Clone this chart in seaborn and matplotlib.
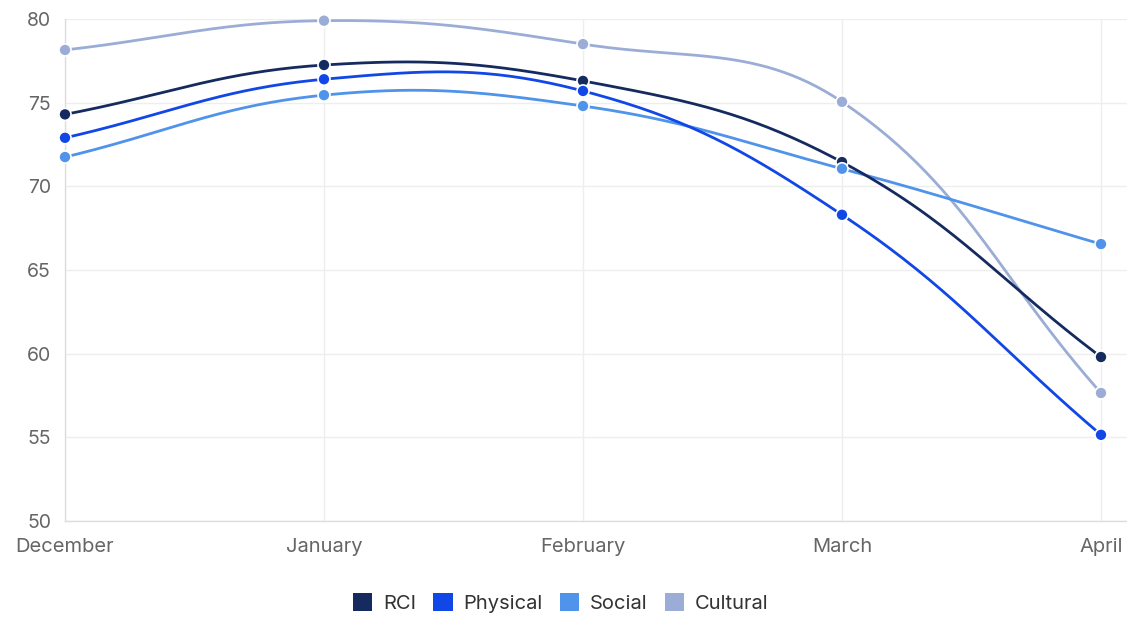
import numpy as np
import pandas as pd
import matplotlib
matplotlib.use("Agg")
import matplotlib.pyplot as plt
from matplotlib.patches import Patch
import seaborn as sns

# Monthly index scores
months = ["December", "January", "February", "March", "April"]
rci = [74.3, 77.25, 76.3, 71.45, 59.8]
physical = [72.9, 76.4, 75.7, 68.3, 55.15]
social = [71.75, 75.45, 74.8, 71.05, 66.55]
cultural = [78.15, 79.9, 78.5, 75.05, 57.65]

series_names = ["RCI", "Physical", "Social", "Cultural"]
series_values = [rci, physical, social, cultural]
colors = ["#152b60", "#1147e6", "#4f93ea", "#9badd6"]
y_ticks = [50, 55, 60, 65, 70, 75, 80]

sns.set_theme(style="white")
plt.rcParams["font.family"] = ["Inter", "DejaVu Sans"]

fig = plt.figure(figsize=(11.27, 6.18), dpi=100)
W, H = 1127, 618
ax = fig.add_axes([65 / W, (H - 521) / H, (1127 - 65) / W, (521 - 19) / H])
x_idx = np.arange(len(months))
ax.set_xlim(0, 4 + 26 / 259)
ax.set_ylim(50, 80)


def bezier_curve(xs, ys, tension=0.4, n=60):
    """Cardinal-style bezier through the points, control points computed in pixel space."""
    pts = ax.transData.transform(np.column_stack([xs, ys]))
    m = len(pts)
    cps = []
    for i in range(m):
        prev = pts[i - 1] if i > 0 else pts[i]
        cur = pts[i]
        nxt = pts[i + 1] if i < m - 1 else pts[i]
        d01 = np.hypot(*(cur - prev))
        d12 = np.hypot(*(nxt - cur))
        tot = d01 + d12
        s01 = d01 / tot if tot else 0
        s12 = d12 / tot if tot else 0
        cp_prev = cur - tension * s01 * (nxt - prev)
        cp_next = cur + tension * s12 * (nxt - prev)
        cps.append((cp_prev, cp_next))
    out = [pts[0]]
    t = np.linspace(0, 1, n)[1:, None]
    for i in range(m - 1):
        p0, p3 = pts[i], pts[i + 1]
        p1, p2 = cps[i][1], cps[i + 1][0]
        seg = ((1 - t) ** 3) * p0 + 3 * ((1 - t) ** 2) * t * p1 + 3 * (1 - t) * t ** 2 * p2 + t ** 3 * p3
        out.extend(seg)
    out = np.array(out)
    return ax.transData.inverted().transform(out)


curve_frames = []
point_frames = []
for name, vals in zip(series_names, series_values):
    c = bezier_curve(x_idx, vals)
    curve_frames.append(pd.DataFrame({"x": c[:, 0], "y": c[:, 1], "series": name, "order": np.arange(len(c))}))
    point_frames.append(pd.DataFrame({"x": x_idx, "y": vals, "series": name}))
curves = pd.concat(curve_frames, ignore_index=True)
points = pd.concat(point_frames, ignore_index=True)
palette = dict(zip(series_names, colors))

# grid
for yv in y_ticks:
    ax.axhline(yv, color="#eeeeee", lw=1, zorder=0)
for xv in x_idx:
    ax.axvline(xv, color="#eeeeee", lw=1, zorder=0)

# draw later series underneath so RCI sits on top
sns.lineplot(data=curves, x="x", y="y", hue="series", hue_order=series_names[::-1],
             palette=palette, sort=False, estimator=None, units="series",
             lw=2, legend=False, ax=ax, zorder=2)
sns.scatterplot(data=points, x="x", y="y", hue="series", hue_order=series_names[::-1],
                palette=palette, s=75, edgecolor="white", linewidth=1.2,
                legend=False, ax=ax, zorder=3, clip_on=False)

ax.set_xlim(0, 4 + 26 / 259)
ax.set_ylim(50, 80)
ax.set_xticks(x_idx)
ax.set_xticklabels(months)
ax.set_yticks(y_ticks)
ax.set_yticklabels([str(v) for v in y_ticks])
ax.set_xlabel("")
ax.set_ylabel("")
ax.tick_params(axis="both", length=7, width=1, color="#e4e4e4", labelcolor="#666666",
               labelsize=14, direction="out")
ax.tick_params(axis="y", pad=3)
ax.tick_params(axis="x", pad=8, length=4, labelsize=14.5)
for side in ["top", "right"]:
    ax.spines[side].set_visible(False)
ax.spines["left"].set_color("#dddddd")
ax.spines["bottom"].set_color("#dddddd")
ax.spines["left"].set_linewidth(1)
ax.spines["bottom"].set_linewidth(1)

handles = [Patch(facecolor=c, edgecolor="none", label=n) for n, c in zip(series_names, colors)]
fig.legend(handles=handles, loc="center", bbox_to_anchor=(561 / W, (H - 603) / H),
           ncol=4, frameon=False, fontsize=14.5, handlelength=0.95, handleheight=0.95,
           handletextpad=0.55, columnspacing=0.85, labelcolor="#333333")

fig.savefig("out.png", dpi=100)
